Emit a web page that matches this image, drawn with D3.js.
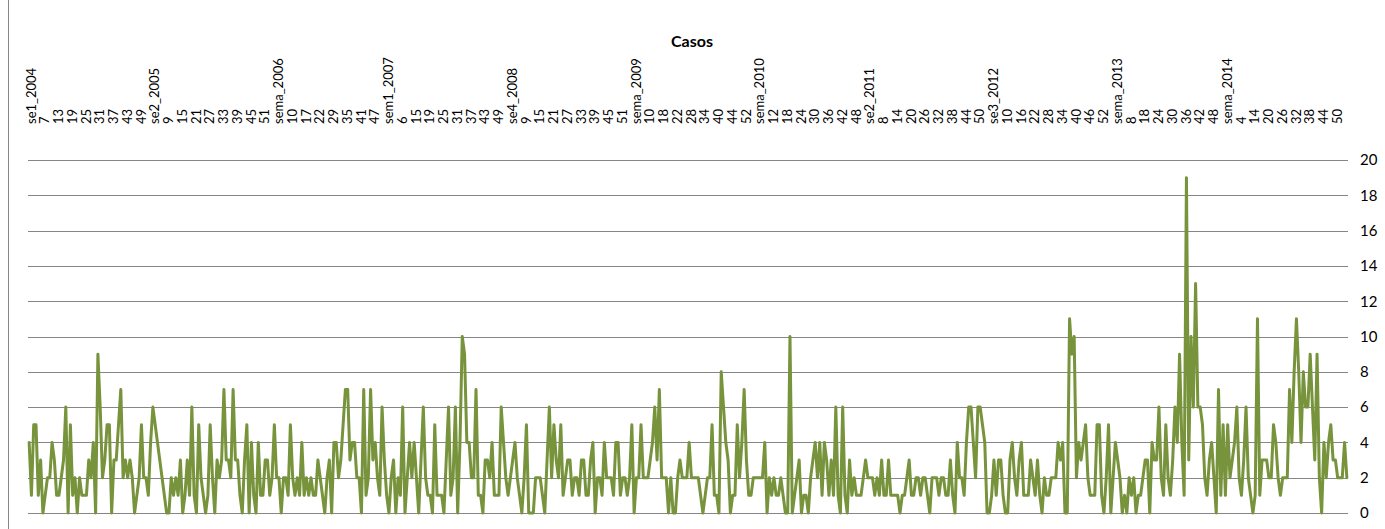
<!DOCTYPE html>
<html>
<head>
<meta charset="utf-8">
<script src="https://cdn.jsdelivr.net/npm/d3@7"></script>
<style>
  html, body { margin: 0; padding: 0; background: #fff; }
  svg { display: block; }
</style>
</head>
<body>
<svg id="chart" width="1385" height="529"></svg>
<script>
// ---- data (weekly case counts) ----
const casosPart1 = [
  4,1,5,5,1,3,0,1,2,2, 4,3,1,1,2,3,6,0,5,1, 2,0,2,1,1,1,3,2,4,0,
  9,6,2,3,5,5,0,3,3,5, 7,2,3,2,3,2,0,1,2,5, 2,2,1,4,6,5,4,3,2,1,
  0,0,2,1,2,1,3,0,1,3, 1,6,1,0,5,2,1,0,1,5, 2,0,3,2,3,7,3,3,2,7,
  3,3,1,0,3,5,0,4,1,0, 4,1,1,3,3,1,2,5,2, 2,0,2,2,1,5,2,1,2,1,
  4,1,2,1,2,1,1,3,2,1, 0,2,3,0,4,4,2,3,5,7, 7,3
];
const casosPart2 = [
  4,4,2,2,0,7,1,2,7,3, 4,2,1,6,3,1,0,2,3,0, 2,1,6,0,2,4,2,4,2,0,
  3,6,2,1,1,0,5,1,1,1, 0,3,6,1,2,6,0,4,10,9, 4,4,2,2,7,1,1,0,3,3,
  2,4,1,1,1,6,4,2,1,2, 3,4,2,1,0,2,5,0,0,0, 2,2,2,1,0,3,6,2,5,
  3,2,5,1,2,3,3,1,2,2, 1,3,3,1,1,3,4,0,2,2, 1,4,2,2,2,1,4,4,1,2,
  2,1,2,5,0,2,2,5,2,2, 2,3,4,6,3,7,2,2,2,0, 2,0,0,2,3,2,2,2,4
];
const casosPart3 = [
  2,2,2,2,1,0,1,2,2,5, 1,1,0,8,6,4,3,0,1,1, 5,2,4,7,3,1,1,2,2,2,
  2,2,4,0,2,1,2,1,1,2, 1,0,0,10,0,1,2,3,0,1, 1,0,2,3,4,2,4,1,4,3,
  1,3,1,6,1,0,6,1,0,3, 1,2,1,1,1,2,3,2,2,2, 1,2,1,3,1,1,3,1,1,
  1,1,0,1,1,2,3,1,1,2, 2,1, 2,2,1,0,2,2,2,1,2,2, 1,1,3,1,0,4,2,2,1,4,
  6,6,4,2,6,6,5,4, 0,0,1,3,1,3,3,1,0,0, 3,4,2,1,3,4,1,1,1,3
];
const casosPart4 = [
  2,1,3,1,0,2,1,1,2,2, 2,4,3,4,0,0,11,9,10,2, 4,3,4,5,2,1,1,1,5,5,
  1,0,2,5,0, 2,4,3,2,0,1,0,2,1,2, 0,1,1,2,3,3,0,4,3,
  3,6,2,1,5,2,1,3,6,4, 9,4,1,19,3,10,6,13, 6,6,5,2,1,3,4,2,0,7,
  1,5,1,5,2,3,4,6,2,1, 3,6,2,1,0,1,11,1,3, 3,3,2,
  2,5,4,2,1,2,2,2,7,4, 8,11,8,4,8,6,6,9,6,3, 9,2,0,4,2,4,5,3,3,2,
  2,2,4,2
];
const casos = [].concat(casosPart1, casosPart2, casosPart3, casosPart4);

// category tick labels (one shown every 6 weeks, as in the original)
const tickLabels = [
  "se1_2004","7","13","19","25","31","37","43","49",
  "se2_2005","9","15","21","27","33","39","45","51",
  "sema_2006","10","17","22","29","35","41","47",
  "sem1_2007","6","15","19","25","31","37","43","49",
  "se4_2008","9","15","21","27","33","39","45","51",
  "sema_2009","10","18","22","28","34","40","44","52",
  "sema_2010","12","18","24","30","36","42","48",
  "se2_2011","8","14","20","26","32","38","44","50",
  "se3_2012","10","16","22","28","34","40","46","52",
  "sema_2013","8","18","24","30","36","42","48",
  "sema_2014","4","14","20","26","32","38","44","50"
];
const tickStep = 6;
const yTicks = [0,2,4,6,8,10,12,14,16,18,20];
const title = "Casos";

// ---- layout ----
const svg = d3.select("#chart");
const plot = { left: 28, right: 1348, top: 160, bottom: 513 };

const x = d3.scaleBand()
  .domain(d3.range(casos.length))
  .range([plot.left, plot.right])
  .paddingInner(0).paddingOuter(0);
const cx = i => x(i) + x.bandwidth() / 2;

const y = d3.scaleLinear().domain([0, 20]).range([plot.bottom, plot.top]);

// chart frame (left edge visible)
svg.append("line")
  .attr("x1", 8.5).attr("x2", 8.5).attr("y1", 0).attr("y2", 529)
  .attr("stroke", "#868686").attr("stroke-width", 1);

// gridlines
svg.append("g").selectAll("line").data(yTicks).join("line")
  .attr("x1", plot.left).attr("x2", plot.right)
  .attr("y1", d => Math.round(y(d)) + 0.5).attr("y2", d => Math.round(y(d)) + 0.5)
  .attr("stroke", "#868686").attr("stroke-width", 1);

// right value axis
const yAxis = d3.axisRight(y).tickValues(yTicks).tickSize(0).tickPadding(0);
const gy = svg.append("g").attr("transform", `translate(${plot.right + 12},0)`).call(yAxis);
gy.select(".domain").remove();
gy.selectAll("text")
  .attr("font-family", "Lato, 'Open Sans', sans-serif")
  .attr("font-size", 15).attr("fill", "#000");

// top category axis (rotated labels)
const tickIdx = tickLabels.map((_, k) => k * tickStep);
const xAxis = d3.axisTop(x)
  .tickValues(tickIdx)
  .tickFormat((d) => tickLabels[d / tickStep])
  .tickSize(0).tickPadding(0);
const gx = svg.append("g").attr("transform", `translate(2,124)`).call(xAxis);
gx.select(".domain").remove();
gx.selectAll("text")
  .attr("font-family", "Lato, 'Open Sans', sans-serif")
  .attr("font-size", 13).attr("fill", "#000")
  .attr("text-anchor", "start")
  .attr("transform", "rotate(-90)")
  .attr("x", 0).attr("y", 0).attr("dy", "0.35em");

// title
svg.append("text")
  .attr("x", 692).attr("y", 47)
  .attr("text-anchor", "middle")
  .attr("font-family", "Lato, 'Open Sans', sans-serif")
  .attr("font-weight", "bold").attr("font-size", 16)
  .attr("fill", "#000").text(title);

// series line
const line = d3.line().x((d, i) => cx(i)).y(d => y(d));
svg.append("path")
  .datum(casos)
  .attr("d", line)
  .attr("fill", "none")
  .attr("stroke", "#77933C")
  .attr("stroke-width", 3)
  .attr("stroke-linejoin", "round")
  .attr("stroke-linecap", "round");
</script>
</body>
</html>
